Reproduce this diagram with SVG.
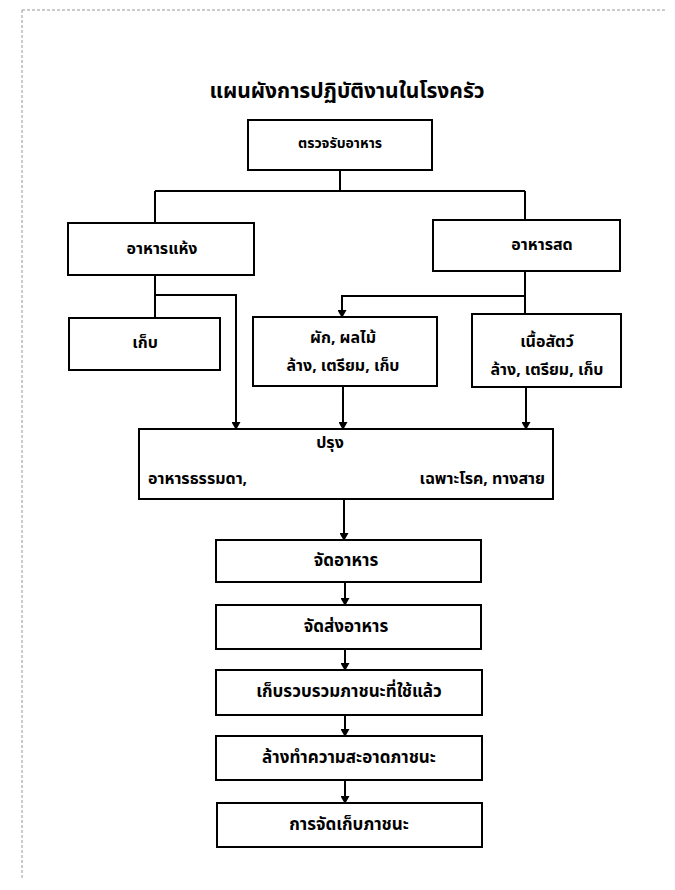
<svg xmlns="http://www.w3.org/2000/svg" width="675" height="890" viewBox="0 0 675 890">
<defs>
<marker id="ah" markerUnits="userSpaceOnUse" markerWidth="8" markerHeight="9" refX="7" refY="4.5" orient="auto">
<path d="M0,0 L8,4.5 L0,9 z" fill="#000"/>
</marker>
<style>
.box{fill:#fff;stroke:#000;stroke-width:2}
.ln{fill:none;stroke:#000;stroke-width:2}
.t{font-family:"Noto Sans Thai","Noto Sans","DejaVu Sans",sans-serif;font-size:16px;font-weight:bold;fill:#000;text-anchor:middle;dominant-baseline:central}
.ts{font-size:14px}
.tb{font-family:"Noto Sans Thai","Noto Sans","DejaVu Sans",sans-serif;font-size:17px;font-weight:bold;fill:#000;text-anchor:middle;dominant-baseline:central}
.title{font-family:"Noto Sans Thai","Noto Sans","DejaVu Sans",sans-serif;font-size:21px;font-weight:bold;fill:#000;text-anchor:middle;dominant-baseline:central}
.scan{fill:none;stroke:#999;stroke-width:1;stroke-dasharray:3 2}
</style>
</defs>
<rect width="675" height="890" fill="#fff"/>
<path class="scan" d="M22,10 V880 M22,10 H665"/>
<text class="title" x="347" y="91">แผนผังการปฏิบัติงานในโรงครัว</text>
<g id="connectors">
<path class="ln" d="M340,170 V191 M155,191 H525 M155,191 V223 M525,191 V220"/>
<path class="ln" d="M155,275 V318"/>
<path class="ln" d="M155,295 H236 V429" marker-end="url(#ah)"/>
<path class="ln" d="M525,271 V314"/>
<path class="ln" d="M525,296 H342 V317" marker-end="url(#ah)"/>
<path class="ln" d="M343,386 V429" marker-end="url(#ah)"/>
<path class="ln" d="M526,387 V429" marker-end="url(#ah)"/>
<path class="ln" d="M344,499 V540" marker-end="url(#ah)"/>
<path class="ln" d="M345,582 V605" marker-end="url(#ah)"/>
<path class="ln" d="M345,649 V670" marker-end="url(#ah)"/>
<path class="ln" d="M345,715 V736" marker-end="url(#ah)"/>
<path class="ln" d="M345,780 V803" marker-end="url(#ah)"/>
</g>
<g id="n-receive"><rect class="box" x="248" y="120" width="184" height="50"/><text class="t ts" x="340" y="143">ตรวจรับอาหาร</text></g>
<g id="n-dry"><rect class="box" x="68" y="223" width="186" height="52"/><text class="t" x="162" y="249">อาหารแห้ง</text></g>
<g id="n-fresh"><rect class="box" x="433" y="220" width="187" height="51"/><text class="t" x="542" y="245">อาหารสด</text></g>
<g id="n-store"><rect class="box" x="69" y="318" width="151" height="52"/><text class="t" x="145" y="343">เก็บ</text></g>
<g id="n-veg"><rect class="box" x="253" y="317" width="184" height="69"/><text class="t" x="343" y="338">ผัก, ผลไม้</text><text class="t" x="343" y="366">ล้าง, เตรียม, เก็บ</text></g>
<g id="n-meat"><rect class="box" x="472" y="314" width="149" height="73"/><text class="t" x="547" y="342">เนื้อสัตว์</text><text class="t" x="547" y="370">ล้าง, เตรียม, เก็บ</text></g>
<g id="n-cook"><rect class="box" x="139" y="429" width="414" height="70"/><text class="t" x="330" y="443">ปรุง</text><text class="t" x="148" y="479" style="text-anchor:start">อาหารธรรมดา,</text><text class="t" x="545" y="479" style="text-anchor:end">เฉพาะโรค, ทางสาย</text></g>
<g id="n-arrange"><rect class="box" x="216" y="540" width="265" height="42"/><text class="tb" x="346" y="561">จัดอาหาร</text></g>
<g id="n-deliver"><rect class="box" x="216" y="605" width="265" height="44"/><text class="tb" x="346" y="627">จัดส่งอาหาร</text></g>
<g id="n-collect"><rect class="box" x="216" y="670" width="266" height="45"/><text class="tb" x="349" y="692">เก็บรวบรวมภาชนะที่ใช้แล้ว</text></g>
<g id="n-wash"><rect class="box" x="216" y="736" width="266" height="44"/><text class="tb" x="349" y="758">ล้างทำความสะอาดภาชนะ</text></g>
<g id="n-keep"><rect class="box" x="217" y="803" width="265" height="44"/><text class="tb" x="349" y="825">การจัดเก็บภาชนะ</text></g>
</svg>
